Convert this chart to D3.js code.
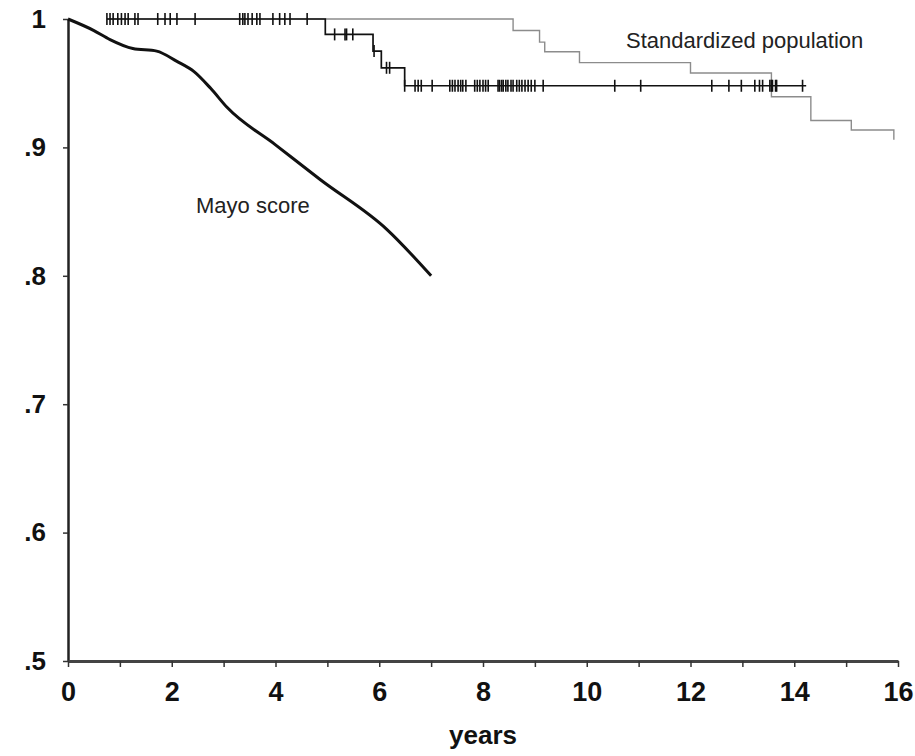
<!DOCTYPE html>
<html>
<head>
<meta charset="utf-8">
<script src="https://cdn.jsdelivr.net/npm/d3@7"></script>
<style>
  body { margin: 0; background: #fff; }
  text { font-family: "Liberation Sans", Arial, sans-serif; }
</style>
</head>
<body>
<svg id="chart" width="915" height="756"></svg>
<script>
// Mayo score predicted survival (smooth curve)
var mayoYears = [0, 0.5, 0.81, 1.25, 1.71, 2.1, 2.43, 2.75, 3.07, 4, 4.86, 6.15, 7];
var mayoSurv = [1, 0.991, 0.984, 0.977, 0.975, 0.967, 0.959, 0.946, 0.931, 0.902, 0.875, 0.836, 0.80];

// Kaplan-Meier observed survival (black step)
var kmYears = [0.75, 4.96, 5.88, 6.04, 6.49, 14.23];
var kmSurv = [1, 0.988, 0.975, 0.962, 0.948, 0.948];

// censored observations
var censorYears = [0.75, 0.81, 0.87, 0.96, 1.03, 1.10, 1.16, 1.29, 1.35, 1.73, 1.87, 1.97, 2.1, 2.45,
  3.31, 3.37, 3.41, 3.47, 3.55, 3.64, 3.70, 3.95, 4.08, 4.18, 4.28, 4.61,
  5.14, 5.34, 5.37, 5.49, 5.9, 6.14, 6.2, 6.49, 6.69, 6.75, 6.81, 7.02,
  7.36, 7.41, 7.46, 7.52, 7.57, 7.61, 7.67, 7.84, 7.89, 7.94, 8.0, 8.05, 8.1,
  8.29, 8.32, 8.36, 8.39, 8.44, 8.48, 8.54, 8.58, 8.65, 8.7, 8.75, 8.81, 8.87, 8.93, 9.0, 9.16,
  10.54, 11.04, 12.41, 12.74, 12.98, 13.24, 13.33, 13.39, 13.53, 13.56, 13.58, 13.64, 13.66, 14.16];

// Standardized population expected survival (grey step)
var stdYears = [0.75, 8.58, 9.09, 9.19, 9.86, 12.0, 13.56, 14.32, 15.1, 15.92];
var stdSurv = [1, 0.991, 0.982, 0.9745, 0.966, 0.958, 0.9395, 0.921, 0.9135, 0.906];

var xMinorTicks = d3.range(0, 17, 1);
var yTicks = [0.5, 0.6, 0.7, 0.8, 0.9, 1];

var svg = d3.select("#chart");

var xScale = d3.scaleLinear().domain([0, 16]).range([68, 898]),
  yScale = d3.scaleLinear().domain([0.5, 1]).range([661, 19]);

function kmAt(t) {
  var s = kmSurv[0];
  for (var i = 0; i < kmYears.length; i++) {
    if (kmYears[i] <= t + 1e-9) s = kmSurv[i];
  }
  return s;
}

// axes
var yAxis = svg.append("g")
  .attr("transform", "translate(" + xScale(0) + ",0)")
  .call(d3.axisLeft(yScale).tickValues(yTicks).tickSize(5).tickSizeOuter(0)
    .tickFormat(function (d) { return d === 1 ? "1" : d3.format(".1f")(d).replace("0.", "."); }));
yAxis.select(".domain").attr("stroke", "#222").attr("stroke-width", 2.5);
yAxis.selectAll(".tick line").attr("stroke", "#333").attr("stroke-width", 1.5);
yAxis.selectAll(".tick text")
  .attr("x", -22)
  .style("font-size", "26px")
  .style("font-weight", "bold")
  .attr("fill", "#111");

var xAxis = svg.append("g")
  .attr("transform", "translate(0," + yScale(0.5) + ")")
  .call(d3.axisBottom(xScale).tickValues(xMinorTicks).tickSize(6).tickSizeOuter(0)
    .tickFormat(function (d) { return d % 2 === 0 ? d : ""; }));
xAxis.select(".domain").attr("stroke", "#444").attr("stroke-width", 3);
xAxis.selectAll(".tick line").attr("stroke", "#333").attr("stroke-width", 1.5);
xAxis.selectAll(".tick text")
  .attr("y", 21)
  .style("font-size", "27px")
  .style("font-weight", "bold")
  .attr("fill", "#111");

svg.append("text")
  .attr("x", 483)
  .attr("y", 744)
  .attr("text-anchor", "middle")
  .style("font-size", "26px")
  .style("font-weight", "bold")
  .attr("fill", "#111")
  .text("years");

var stepLine = d3.line()
  .x(function (d) { return xScale(d[0]); })
  .y(function (d) { return yScale(d[1]); })
  .curve(d3.curveStepAfter);

// standardized population
svg.append("path")
  .datum(d3.zip(stdYears, stdSurv))
  .attr("d", stepLine)
  .style("fill", "none")
  .style("stroke", "#8c8c8c")
  .style("stroke-width", 1.4);

// observed KM
svg.append("path")
  .datum(d3.zip(kmYears, kmSurv))
  .attr("d", stepLine)
  .style("fill", "none")
  .style("stroke", "#111")
  .style("stroke-width", 1.7);

svg.append("g")
  .selectAll("line")
  .data(censorYears)
  .enter()
  .append("line")
  .attr("x1", function (d) { return xScale(d); })
  .attr("x2", function (d) { return xScale(d); })
  .attr("y1", function (d) { return yScale(kmAt(d)) - 6; })
  .attr("y2", function (d) { return yScale(kmAt(d)) + 6; })
  .style("stroke", "#111")
  .style("stroke-width", 1.6);

// Mayo score curve
var mayoLine = d3.line()
  .x(function (d) { return xScale(d[0]); })
  .y(function (d) { return yScale(d[1]); })
  .curve(d3.curveMonotoneX);

svg.append("path")
  .datum(d3.zip(mayoYears, mayoSurv))
  .attr("d", mayoLine)
  .style("fill", "none")
  .style("stroke", "#111")
  .style("stroke-width", 3);

// labels
svg.append("text")
  .attr("x", 626)
  .attr("y", 48)
  .style("font-size", "22px")
  .attr("fill", "#222")
  .text("Standardized population");

svg.append("text")
  .attr("x", 196)
  .attr("y", 213)
  .style("font-size", "22px")
  .attr("fill", "#222")
  .text("Mayo score");
</script>
</body>
</html>
